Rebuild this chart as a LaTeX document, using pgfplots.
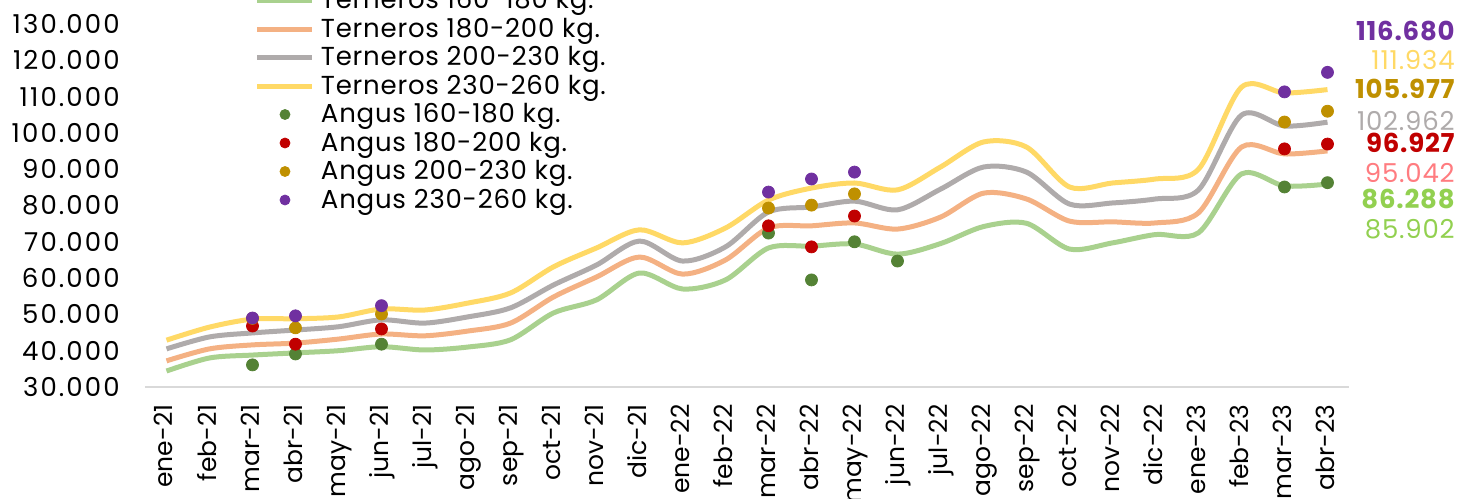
\documentclass[border=0pt]{standalone}
\usepackage{fontspec}
\setmainfont{Poppins}
\newfontfamily\ytf[LetterSpace=8]{Poppins}
\newfontfamily\lgf[LetterSpace=3]{Poppins}
\usepackage{pgfplots}
\pgfplotsset{compat=1.18}

\definecolor{tA}{HTML}{A9D18E}
\definecolor{tB}{HTML}{F4B183}
\definecolor{tC}{HTML}{AFABAB}
\definecolor{tD}{HTML}{FFD966}
\definecolor{aA}{HTML}{548235}
\definecolor{aB}{HTML}{C00000}
\definecolor{aC}{HTML}{BF9000}
\definecolor{aD}{HTML}{7030A0}
\definecolor{lblpink}{HTML}{FF7C80}
\definecolor{lblgreen}{HTML}{92D050}
\definecolor{axisgray}{HTML}{D9D9D9}

\newcommand\cf{\fontsize{12.5bp}{15bp}\selectfont}
\newcommand\yf{\fontsize{13bp}{15bp}\ytf}
\newcommand\lf{\fontsize{13bp}{15bp}\lgf}

\pgfplotsset{
  tern/.style={smooth, line width=2.5bp, no markers,
    legend image code/.code={\draw[##1, line width=2.5bp] (0bp,0bp) -- (27.5bp,0bp);}},
  ang/.style={only marks, mark=*, mark size=3bp,
    legend image code/.code={\draw[##1, mark size=2.5bp] plot coordinates {(13.75bp,0bp)};}},
}

\begin{document}
\begin{tikzpicture}
\begin{axis}[
  scale only axis, width=602bp, height=181.5bp,
  xmin=-0.5, xmax=27.5, ymin=30000, ymax=130000,
  clip=false,
  axis x line*=bottom, axis y line*=left,
  y axis line style={draw=none},
  x axis line style={draw=axisgray, line width=1bp},
  major tick length=0pt, tick style={draw=none},
  ytick={30000,40000,...,130000},
  scaled y ticks=false,
  /pgf/number format/fixed,
  /pgf/number format/1000 sep={.},
  /pgf/number format/assume math mode=true,
  yticklabel style={anchor=east, inner sep=0pt, font=\yf},
  yticklabel shift=12.5bp,
  xtick={0,...,27},
  xticklabels={ene-21,feb-21,mar-21,abr-21,may-21,jun-21,jul-21,ago-21,sep-21,oct-21,nov-21,dic-21,
    ene-22,feb-22,mar-22,abr-22,may-22,jun-22,jul-22,ago-22,sep-22,oct-22,nov-22,dic-22,
    ene-23,feb-23,mar-23,abr-23},
  xticklabel style={rotate=90, anchor=east, inner sep=0pt, font=\cf, text height=9bp, text depth=2.5bp},
  xticklabel shift=8.5bp,
  legend cell align=left,
  legend style={at={(0.09136,1.10399)}, anchor=north west, draw=none, fill=none,
    inner sep=0pt, outer sep=0pt, row sep=0pt, column sep=3bp, font=\lf,
    nodes={inner sep=0pt, text height=11.125bp, text depth=3.125bp}},
]
\addplot[tern, color=tA] coordinates {(0,34400)(1,38000)(2,38800)(3,39400)(4,40000)(5,41100)(6,40200)(7,41000)(8,43000)(9,50400)(10,54000)(11,61400)(12,57000)(13,59500)(14,68300)(15,68800)(16,69400)(17,66600)(18,69500)(19,74200)(20,75100)(21,68000)(22,69700)(23,72000)(24,72500)(25,88700)(26,85400)(27,85902)};
\addlegendentry{Terneros 160-180 kg.}
\addplot[tern, color=tB] coordinates {(0,37200)(1,40500)(2,41600)(3,42100)(4,43200)(5,44600)(6,44100)(7,45400)(8,47600)(9,54800)(10,60300)(11,65800)(12,61100)(13,65000)(14,73800)(15,74400)(16,75200)(17,73500)(18,76800)(19,83400)(20,81800)(21,75700)(22,75500)(23,75200)(24,78000)(25,96100)(26,94200)(27,95042)};
\addlegendentry{Terneros 180-200 kg.}
\addplot[tern, color=tC] coordinates {(0,40500)(1,43800)(2,44900)(3,45700)(4,46600)(5,48500)(6,47600)(7,49300)(8,51800)(9,58100)(10,63600)(11,70200)(12,64700)(13,68600)(14,78200)(15,79600)(16,81200)(17,78800)(18,84500)(19,90600)(20,89200)(21,80400)(22,80700)(23,81800)(24,84300)(25,104900)(26,101900)(27,102962)};
\addlegendentry{Terneros 200-230 kg.}
\addplot[tern, color=tD] coordinates {(0,42900)(1,46500)(2,48700)(3,48800)(4,49300)(5,51500)(6,51200)(7,53100)(8,55900)(9,63100)(10,68300)(11,73300)(12,69700)(13,73800)(14,81500)(15,84800)(16,86200)(17,84300)(18,90600)(19,97500)(20,96100)(21,85100)(22,86200)(23,87300)(24,90000)(25,112600)(26,111000)(27,111934)};
\addlegendentry{Terneros 230-260 kg.}
\addplot[ang, color=aA] coordinates {(2,36100)(3,39100)(5,41800)(14,72400)(15,59500)(16,70000)(17,64700)(26,85100)(27,86288)};
\addlegendentry{Angus 160-180 kg.}
\addplot[ang, color=aB] coordinates {(2,46800)(3,41800)(5,46000)(14,74400)(15,68600)(16,77100)(26,95600)(27,96927)};
\addlegendentry{Angus 180-200 kg.}
\addplot[ang, color=aC] coordinates {(2,48900)(3,46300)(5,50100)(14,79300)(15,80100)(16,83200)(26,103000)(27,105977)};
\addlegendentry{Angus 200-230 kg.}
\addplot[ang, color=aD] coordinates {(2,49000)(3,49600)(5,52400)(14,83700)(15,87300)(16,89200)(26,111300)(27,116680)};
\addlegendentry{Angus 230-260 kg.}

\begin{scope}[every node/.style={anchor=east, inner sep=0pt, font=\lf}]
\node[text=aD, font=\lf\bfseries] at (axis cs:29.965,128154) {116.680};
\node[text=tD] at (axis cs:29.965,120082) {111.934};
\node[text=aC, font=\lf\bfseries] at (axis cs:29.965,112010) {105.977};
\node[text=tC] at (axis cs:29.965,103360) {102.962};
\node[text=aB, font=\lf\bfseries] at (axis cs:29.965,97300) {96.927};
\node[text=lblpink] at (axis cs:29.965,89036) {95.042};
\node[text=lblgreen, font=\lf\bfseries] at (axis cs:29.965,81708) {86.288};
\node[text=lblgreen] at (axis cs:29.965,73443) {85.902};
\end{scope}
\end{axis}
\pgfresetboundingbox
\path[use as bounding box] (-72.5bp,-56bp) rectangle (664bp,193.5bp);
\end{tikzpicture}
\end{document}
